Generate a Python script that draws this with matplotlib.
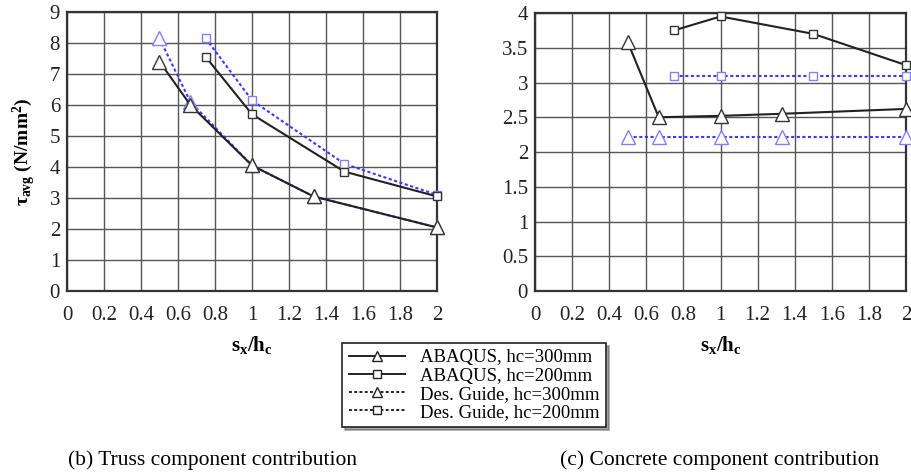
import matplotlib
matplotlib.use("Agg")
import matplotlib.pyplot as plt
from matplotlib.lines import Line2D

plt.rcParams['font.family'] = ['Liberation Serif', 'DejaVu Serif']
plt.rcParams['mathtext.fontset'] = 'custom'
plt.rcParams['mathtext.rm'] = 'Liberation Serif'
plt.rcParams['mathtext.bf'] = 'Liberation Serif:bold'
plt.rcParams['mathtext.it'] = 'Liberation Serif:italic'

x300 = [0.5, 0.667, 1.0, 1.333, 2.0]
x200 = [0.75, 1.0, 1.5, 2.0]

# (b) Truss component contribution
truss_abaqus_300 = [7.4, 6.0, 4.05, 3.05, 2.05]
truss_abaqus_200 = [7.55, 5.7, 3.85, 3.05]
truss_guide_300 = [8.15, 6.1, 4.05, 3.05, 2.05]
truss_guide_200 = [8.15, 6.15, 4.1, 3.1]

# (c) Concrete component contribution
conc_abaqus_300 = [3.58, 2.5, 2.52, 2.55, 2.62]
conc_abaqus_200 = [3.75, 3.95, 3.7, 3.25]
conc_guide_300 = [2.22, 2.22, 2.22, 2.22, 2.22]
conc_guide_200 = [3.1, 3.1, 3.1, 3.1]

legend_labels = ["ABAQUS, hc=300mm", "ABAQUS, hc=200mm",
                 "Des. Guide, hc=300mm", "Des. Guide, hc=200mm"]
captions = ["(b) Truss component contribution", "(c) Concrete component contribution"]

W, H = 912, 474
fig = plt.figure(figsize=(W/100, H/100), dpi=100)

def px_axes(x0, x1, y0, y1):
    return fig.add_axes([x0/W, 1 - y1/H, (x1-x0)/W, (y1-y0)/H])

axL = px_axes(67, 437, 12, 291)
axR = px_axes(535, 906, 13, 291)

blue = '#3a3aff'

def draw(ax, a300, a200, g300, g200):
    ax.plot(x300, g300, color=blue, ls=(0, (1.5, 1.2)), lw=1.5, marker='^', ms=9.5,
            mfc='white', mec='#8080ff', mew=1.0, zorder=3, clip_on=False)
    ax.plot(x200, g200, color=blue, ls=(0, (1.5, 1.2)), lw=1.5, marker='s', ms=5.5,
            mfc='white', mec='#8080ff', mew=1.0, zorder=3, clip_on=False)
    ax.plot(x300, a300, color='#222222', ls='-', lw=1.5, marker='^', ms=9.5,
            mfc='white', mec='#333333', mew=1.0, zorder=4, clip_on=False)
    ax.plot(x200, a200, color='#222222', ls='-', lw=1.5, marker='s', ms=5.5,
            mfc='white', mec='#333333', mew=1.0, zorder=4, clip_on=False)
    ax.set_xlim(0, 2)
    ax.set_xticks([0, 0.2, 0.4, 0.6, 0.8, 1, 1.2, 1.4, 1.6, 1.8, 2])
    ax.set_xticklabels(['0', '0.2', '0.4', '0.6', '0.8', '1', '1.2', '1.4', '1.6', '1.8', '2'])
    ax.grid(True, color='#555555', lw=1.0)
    ax.set_axisbelow(True)
    for s in ax.spines.values():
        s.set_linewidth(1.6)
        s.set_color('#333333')
    ax.tick_params(length=0, labelsize=15, colors='#222222')
    ax.tick_params(axis='x', pad=11)
    ax.tick_params(axis='y', pad=5)
    ax.set_xlabel(r'$\mathbf{s_x/h_c}$', fontsize=15, labelpad=6)

draw(axL, truss_abaqus_300, truss_abaqus_200, truss_guide_300, truss_guide_200)
axL.set_ylim(0, 9)
axL.set_yticks(range(0, 10))
axL.set_ylabel(r'$\mathregular{\tau_{avg}}$ (N/mm$^\mathbf{2}$)', fontsize=14, fontweight='bold', labelpad=8)

draw(axR, conc_abaqus_300, conc_abaqus_200, conc_guide_300, conc_guide_200)
axR.set_ylim(0, 4)
axR.set_yticks([0, 0.5, 1, 1.5, 2, 2.5, 3, 3.5, 4])
axR.set_yticklabels(['0', '0.5', '1', '1.5', '2', '2.5', '3', '3.5', '4'])

handles = [
    Line2D([], [], color='#222222', ls='-', lw=1.4, marker='^', ms=7, mfc='white', mec='#222222'),
    Line2D([], [], color='#222222', ls='-', lw=1.4, marker='s', ms=6, mfc='white', mec='#222222'),
    Line2D([], [], color='#222222', ls=(0, (1.5, 1.2)), lw=1.4, marker='^', ms=7, mfc='white', mec='#222222'),
    Line2D([], [], color='#222222', ls=(0, (1.5, 1.2)), lw=1.4, marker='s', ms=6, mfc='white', mec='#222222'),
]
leg = fig.legend(handles, legend_labels, loc='center', bbox_to_anchor=(474/W, 1 - 385/H),
                 fontsize=13.5, frameon=True, fancybox=False, shadow=True,
                 handlelength=3.0, handletextpad=0.8, labelspacing=0.05,
                 borderpad=0.35, edgecolor='#222222')
leg.get_frame().set_linewidth(1.2)

fig.text(213/W, 1 - 460/H, captions[0], ha='center', va='center', fontsize=15.5)
fig.text(720/W, 1 - 460/H, captions[1], ha='center', va='center', fontsize=15.5)

fig.savefig('out.png', dpi=100)
